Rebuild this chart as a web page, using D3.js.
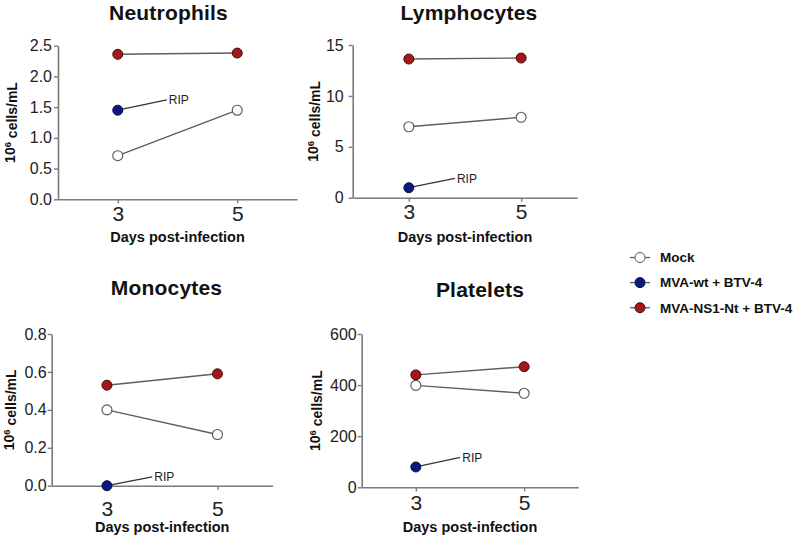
<!DOCTYPE html>
<html>
<head>
<meta charset="utf-8">
<script src="https://cdn.jsdelivr.net/npm/d3@7"></script>
<style>
  html, body { margin: 0; padding: 0; background: #fff; }
  svg { display: block; font-family: "Liberation Sans", Arial, Helvetica, sans-serif; }
</style>
</head>
<body>
<svg id="chart" width="800" height="536"></svg>
<script>
// ---------------- DATA ----------------
const days = [3, 5];
const panelTitles = ["Neutrophils", "Lymphocytes", "Monocytes", "Platelets"];
const seriesNames = ["Mock", "MVA-wt + BTV-4", "MVA-NS1-Nt + BTV-4"];
// Mock: values at day 3 and day 5
const mockValues = [[0.71, 1.45], [6.97, 7.9], [0.40, 0.27], [399, 368]];
// MVA-wt + BTV-4: only day 3 (animals died -> RIP)
const mvaWtValues = [1.45, 0.98, 0.0, 79.5];
// MVA-NS1-Nt + BTV-4: values at day 3 and day 5
const mvaNs1Values = [[2.36, 2.38], [13.62, 13.72], [0.53, 0.59], [440, 472]];
// RIP annotation end point (day, value)
const ripDay = 3.82;
const ripValues = [1.62, 1.9, 0.047, 117];
const ripLabel = "RIP";
const yMax = [2.5, 15, 0.8, 600];
const yTickLabels = [
  ["0.0", "0.5", "1.0", "1.5", "2.0", "2.5"],
  ["0", "5", "10", "15"],
  ["0.0", "0.2", "0.4", "0.6", "0.8"],
  ["0", "200", "400", "600"]
];
const xDomain = [2, 6];
const xLabel = "Days post-infection";

// ---------------- LAYOUT ----------------
const layout = [
  { x0: 58,    x1: 297,   yTop: 45.7, yBot: 199.3, titleX: 168.5, titleY: 19.5, yLabX: 10,  xPad: 3,  daysY: 242, yPad: 2 },
  { x0: 352.7, x1: 577.3, yTop: 45,   yBot: 197.7, titleX: 469,   titleY: 19.5, yLabX: 313, xPad: 2,  daysY: 242, yPad: 5 },
  { x0: 51.7,  x1: 272.7, yTop: 334,  yBot: 485.7, titleX: 166.5, titleY: 295,  yLabX: 9.5, xPad: 11, daysY: 532, yPad: 1 },
  { x0: 361.7, x1: 578.3, yTop: 334,  yBot: 487.3, titleX: 480,   titleY: 297,  yLabX: 315, xPad: 4,  daysY: 532, yPad: 1 }
];
const colors = { mock: "#ffffff", wt: "#0c1a80", ns1: "#a3191b" };
const strokes = { mock: "#555555", wt: "#0a0f3c", ns1: "#4e0a0a" };
const axisColor = "#7a7a7a";
const lineColor = "#5e5e5e";
const R = 5;

const svg = d3.select("#chart");

panelTitles.forEach((title, i) => {
  const L = layout[i];
  const x = d3.scaleLinear().domain(xDomain).range([L.x0, L.x1]);
  const y = d3.scaleLinear().domain([0, yMax[i]]).range([L.yBot, L.yTop]);
  const g = svg.append("g");

  // Title
  g.append("text")
    .attr("x", L.titleX).attr("y", L.titleY)
    .attr("text-anchor", "middle")
    .attr("font-weight", "bold").attr("font-size", 21)
    .attr("letter-spacing", 0.2)
    .attr("fill", "#111")
    .text(title);

  // Y axis
  const yAxis = d3.axisLeft(y)
    .tickValues(yTickLabels[i].map(Number))
    .tickFormat((d, k) => yTickLabels[i][k])
    .tickSize(4).tickSizeOuter(0).tickPadding(L.yPad);
  const ya = g.append("g").attr("transform", `translate(${L.x0},0)`).call(yAxis);
  ya.select(".domain").attr("stroke", axisColor).attr("stroke-width", 1.6);
  ya.selectAll(".tick line").attr("stroke", axisColor).attr("stroke-width", 1.4);
  ya.selectAll(".tick text").attr("font-size", 16).attr("fill", "#222")
    .attr("font-family", "Liberation Sans, Arial, sans-serif");

  // X axis
  const xAxis = d3.axisBottom(x).tickValues(days).tickFormat(d3.format("d"))
    .tickSize(4).tickSizeOuter(0).tickPadding(L.xPad);
  const xa = g.append("g").attr("transform", `translate(0,${L.yBot})`).call(xAxis);
  xa.select(".domain").attr("stroke", axisColor).attr("stroke-width", 1.6);
  xa.selectAll(".tick line").attr("stroke", axisColor).attr("stroke-width", 1.4);
  xa.selectAll(".tick text").attr("font-size", 21).attr("fill", "#222")
    .attr("font-family", "Liberation Sans, Arial, sans-serif");

  // X label
  g.append("text")
    .attr("x", (L.x0 + L.x1) / 2).attr("y", L.daysY)
    .attr("text-anchor", "middle")
    .attr("font-weight", "bold").attr("font-size", 14.5).attr("fill", "#111")
    .text(xLabel);

  // Y label
  const yl = g.append("text")
    .attr("transform", `translate(${L.yLabX},${(L.yTop + L.yBot) / 2}) rotate(-90)`)
    .attr("text-anchor", "middle").attr("dy", "0.35em")
    .attr("font-weight", "bold").attr("font-size", 14).attr("fill", "#111");
  yl.append("tspan").text("10");
  yl.append("tspan").attr("dy", "-0.45em").attr("font-size", 9.5).text("6");
  yl.append("tspan").attr("dy", "0.45em").text(" cells/mL");

  const line = d3.line().x(d => x(d[0])).y(d => y(d[1]));

  // Mock line
  const mockPts = days.map((d, k) => [d, mockValues[i][k]]);
  g.append("path").datum(mockPts).attr("d", line)
    .attr("fill", "none").attr("stroke", lineColor).attr("stroke-width", 1.4);
  // NS1 line
  const ns1Pts = days.map((d, k) => [d, mvaNs1Values[i][k]]);
  g.append("path").datum(ns1Pts).attr("d", line)
    .attr("fill", "none").attr("stroke", lineColor).attr("stroke-width", 1.4);
  // RIP line
  const ripPts = [[days[0], mvaWtValues[i]], [ripDay, ripValues[i]]];
  g.append("path").datum(ripPts).attr("d", line)
    .attr("fill", "none").attr("stroke", "#333").attr("stroke-width", 1.3);
  g.append("text")
    .attr("x", x(ripDay) + 2).attr("y", y(ripValues[i]))
    .attr("dy", "0.35em").attr("font-size", 12).attr("fill", "#222")
    .text(ripLabel);

  // Points
  g.selectAll(".mock").data(mockPts).join("circle")
    .attr("cx", d => x(d[0])).attr("cy", d => y(d[1])).attr("r", R)
    .attr("fill", colors.mock).attr("stroke", strokes.mock).attr("stroke-width", 1.1);
  g.selectAll(".ns1").data(ns1Pts).join("circle")
    .attr("cx", d => x(d[0])).attr("cy", d => y(d[1])).attr("r", R)
    .attr("fill", colors.ns1).attr("stroke", strokes.ns1).attr("stroke-width", 1);
  g.append("circle")
    .attr("cx", x(days[0])).attr("cy", y(mvaWtValues[i])).attr("r", R)
    .attr("fill", colors.wt).attr("stroke", strokes.wt).attr("stroke-width", 1);
});

// Legend
const legendFill = [colors.mock, colors.wt, colors.ns1];
const legendStroke = [strokes.mock, strokes.wt, strokes.ns1];
const legendY = d3.scalePoint().domain(seriesNames).range([257.5, 307.7]);
const lg = svg.append("g");
seriesNames.forEach((name, k) => {
  const yy = legendY(name);
  lg.append("line").attr("x1", 630).attr("x2", 650).attr("y1", yy).attr("y2", yy)
    .attr("stroke", lineColor).attr("stroke-width", 1.3);
  lg.append("circle").attr("cx", 640).attr("cy", yy).attr("r", R)
    .attr("fill", legendFill[k]).attr("stroke", legendStroke[k]).attr("stroke-width", 1);
  lg.append("text").attr("x", 660).attr("y", yy).attr("dy", "0.36em")
    .attr("font-weight", "bold").attr("font-size", 13.5).attr("fill", "#111")
    .text(name);
});
</script>
</body>
</html>
